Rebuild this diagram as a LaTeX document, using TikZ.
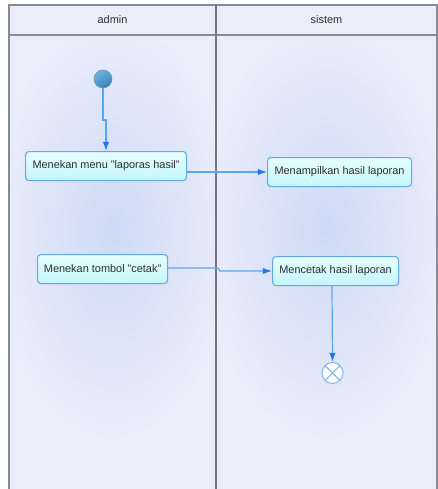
\documentclass[tikz,border=0pt]{standalone}
\usepackage{fontspec}
\setmainfont{Liberation Sans}
\usetikzlibrary{arrows.meta,shadings}
\definecolor{lane}{HTML}{EBEDFB}
\definecolor{glow}{HTML}{CDDAF4}
\definecolor{laneline}{HTML}{8A8A96}
\definecolor{boxline}{HTML}{64A8E8}
\definecolor{boxtop}{HTML}{E6FEFF}
\definecolor{boxbot}{HTML}{C4F6FA}
\definecolor{flow}{HTML}{5AA6F6}
\definecolor{tip}{HTML}{1E7AF2}
\definecolor{txt}{HTML}{2E2E2E}
\definecolor{balllight}{HTML}{6FB4DC}
\definecolor{balldark}{HTML}{3581B6}
\tikzset{
  action/.style={draw=boxline, line width=0.8pt, rounded corners=2.5pt,
    top color=boxtop, bottom color=boxbot, text=txt,
    font=\fontsize{8.2}{9}\selectfont, inner sep=0pt, anchor=north west},
  flowline/.style={draw=flow, line width=0.9pt,
    -{Latex[length=6.8pt, width=4.8pt, color=tip]}},
  header/.style={text=txt, font=\fontsize{8.2}{9}\selectfont},
}
\begin{document}
\begin{tikzpicture}[x=0.75pt, y=-0.75pt]
\useasboundingbox (0,0) rectangle (438,489);
\fill[white] (0,0) rectangle (438,489);
% swimlane bodies with soft glow, each clipped to its own lane
\fill[lane] (9,5) rectangle (437,489);
\begin{scope}
  \clip (9,35) rectangle (216,489);
  \shade[inner color=glow, outer color=lane] (-10,20) rectangle (235,440);
\end{scope}
\begin{scope}
  \clip (216,35) rectangle (437,489);
  \shade[inner color=glow, outer color=lane] (200,20) rectangle (452,440);
\end{scope}
% lane borders
\draw[laneline, line width=0.8pt] (9,489) -- (9,5) -- (437,5) -- (437,489);
\draw[laneline, line width=0.8pt] (9,35) -- (437,35);
\draw[laneline!85!black, line width=1.1pt] (216,5) -- (216,489);
\node[header] (hadmin) at (112.5,19.5) {admin};
\node[header] (hsistem) at (326.5,19.5) {sistem};
% start node
\shade[top color=balllight, bottom color=balldark, shading angle=30, draw=balldark!80!white, line width=0.4pt] (103,79) circle (9);
\coordinate (start) at (103,88);
% actions
\node[action, minimum width=161*0.75pt, minimum height=29*0.75pt] (a1) at (25,151) {Menekan menu "laporas hasil"};
\node[action, minimum width=144*0.75pt, minimum height=29*0.75pt] (a2) at (267,157) {Menampilkan hasil laporan};
\node[action, minimum width=130*0.75pt, minimum height=29*0.75pt] (a3) at (37,254) {Menekan tombol "cetak"};
\node[action, minimum width=126*0.75pt, minimum height=29*0.75pt] (a4) at (272,256) {Mencetak hasil laporan};
% final node
\node[circle, draw=boxline!80, line width=0.8pt, fill=white, minimum size=21*0.75pt, inner sep=0pt] (end) at (332.5,373) {};
\draw[boxline!80, line width=0.8pt] (end.north west) -- (end.south east) (end.north east) -- (end.south west);
% control flows
\draw[flowline] (start) -- (103,120) -- (106,120) -- (a1.north -| 106,0);
\draw[flowline] (a1.east |- 0,172) -- (a2.west |- 0,172);
\draw[flowline] (a3.east |- 0,268) -- (218,268) -- (220,271) -- (a4.west |- 0,271);
\draw[flowline] (a4.south -| 332,0) -- (end.north);
\end{tikzpicture}
\end{document}
